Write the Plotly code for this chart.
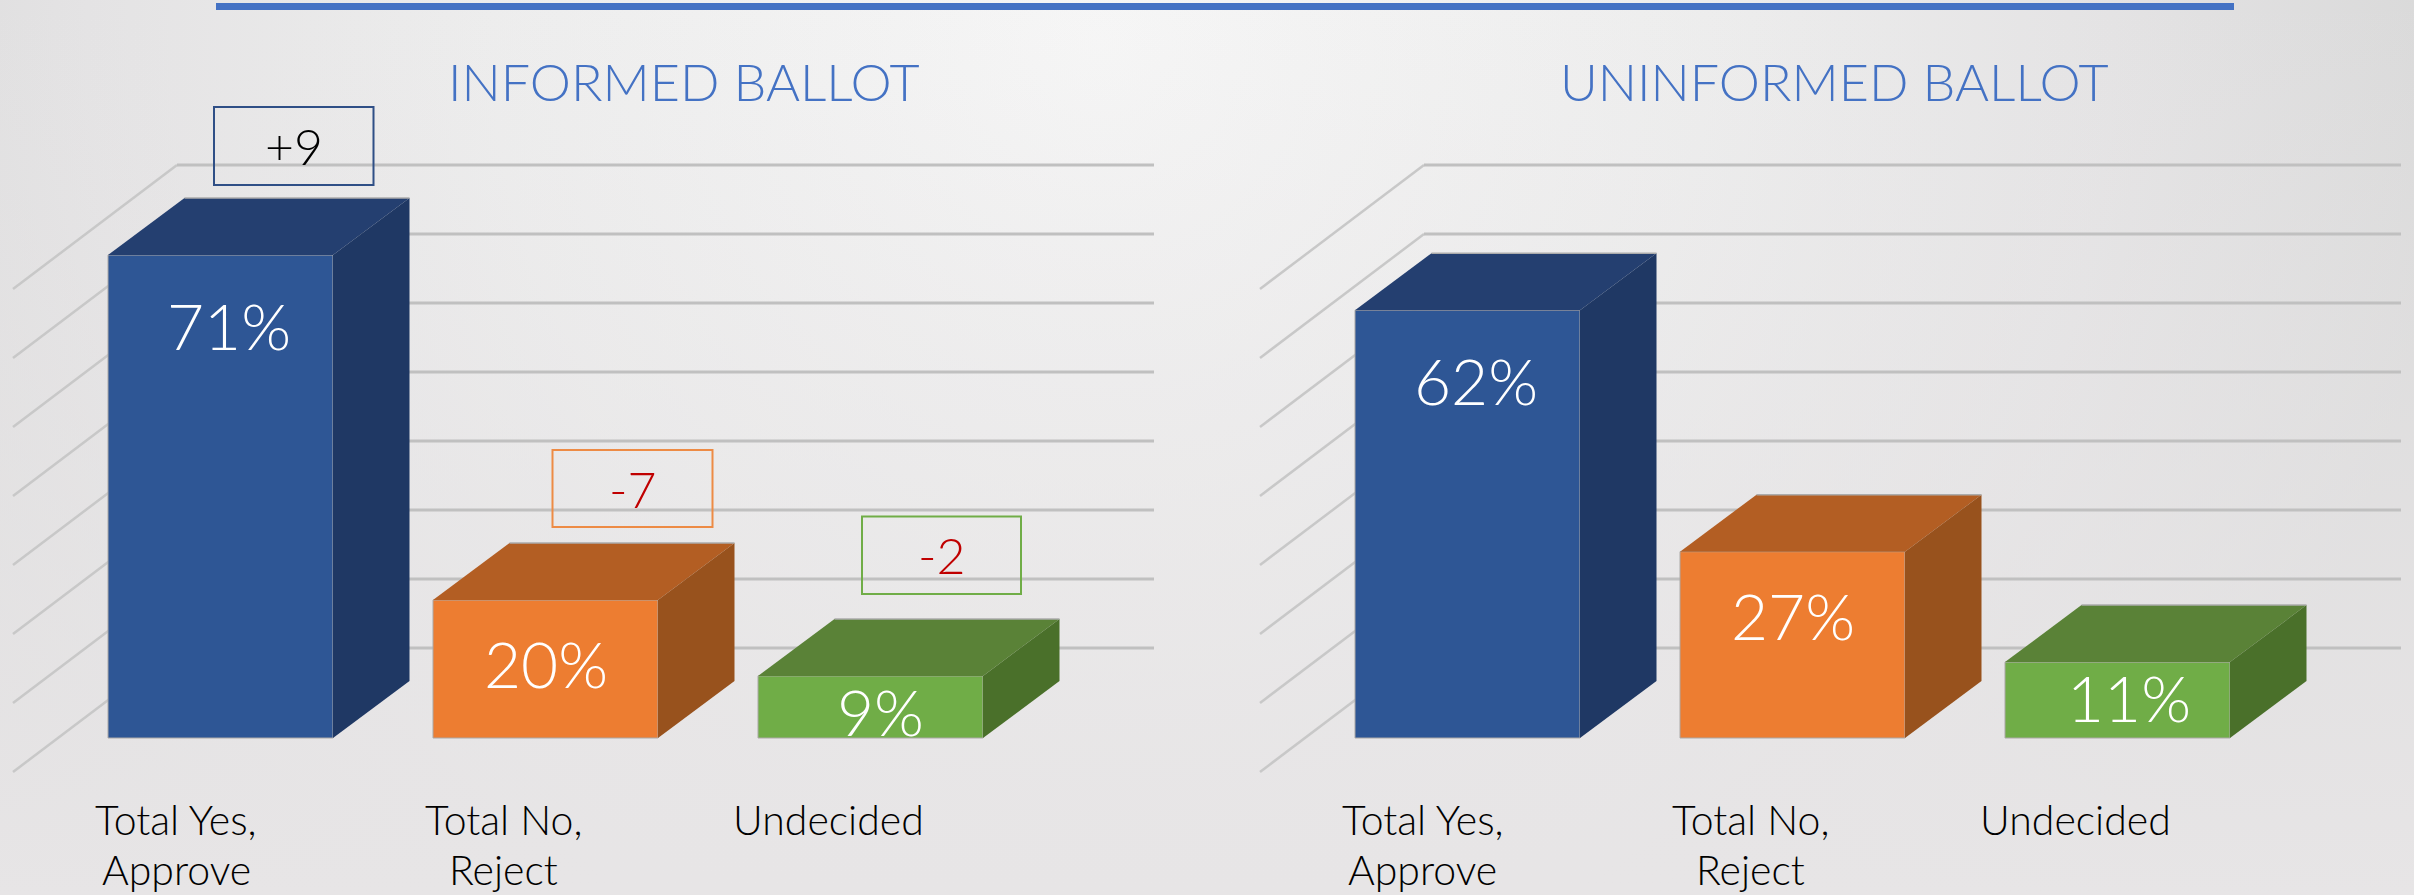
import base64
import numpy as np
import plotly.graph_objects as go

# ---------- data ----------
categories = ["Total Yes, Approve", "Total No, Reject", "Undecided"]
category_lines = [["Total Yes,", "Approve"], ["Total No,", "Reject"], ["Undecided"]]
informed_values = [71, 20, 9]
uninformed_values = [62, 27, 11]
titles = ["INFORMED BALLOT", "UNINFORMED BALLOT"]
change_labels = ["+9", "-7", "-2"]
grid_levels = [0, 10, 20, 30, 40, 50, 60, 70]

# ---------- styles ----------
AXIS_MAX = 70
W, H = 2414, 895
PX_PER_UNIT = 6.9
BASE_Y = 738
SPACING = 325
FRONT = ["#2E5695", "#ED7D31", "#70AD47"]
TOP = ["#243F70", "#B35E23", "#5A8237"]
SIDE = ["#1F3864", "#98521D", "#4A702A"]
BOX = ["#2F4F86", "#ED8B45", "#70AD47"]
CHANGE_COL = ["#000000", "#C00000", "#C00000"]
FONT = "Lato"
PANEL_SHIFT = 1247
FIRST_CENTER = 220.5


def yu(px):
    return (BASE_Y - px) / PX_PER_UNIT


def xu(px, panel):
    return (px - FIRST_CENTER - panel * PANEL_SHIFT) / SPACING


DEPTH_X, DEPTH_Y = 76.5 / SPACING, 57 / PX_PER_UNIT
BAR_W = 225 / SPACING

fig = go.Figure()
panel_vals = [informed_values, uninformed_values]
SPLIT = 1207

axes = {}
for panel in range(2):
    lo, hi = (0, SPLIT) if panel == 0 else (SPLIT, W)
    xr = [xu(lo, panel), xu(hi, panel)]
    yr = [yu(H), yu(0)]
    for layer in range(2):
        idx = panel + layer * 2 + 1
        sx = "" if idx == 1 else str(idx)
        axes[f"xaxis{sx}"] = dict(domain=[lo / W, hi / W], range=xr, visible=False,
                                  fixedrange=True, anchor=f"y{sx}")
        axes[f"yaxis{sx}"] = dict(domain=[0, 1], range=yr, visible=False,
                                  fixedrange=True, anchor=f"x{sx}")

# grid (lower subplots, so that the bars cover it)
corner_x = (177 - FIRST_CENTER) / SPACING
start_x = (13 - FIRST_CENTER) / SPACING
end_x = (1154 - FIRST_CENTER) / SPACING
back_y = 90 / PX_PER_UNIT
front_y = -34 / PX_PER_UNIT
for panel in range(2):
    sx = "" if panel == 0 else "2"
    for lv in grid_levels:
        fig.add_trace(go.Scatter(x=[start_x, corner_x], y=[lv + front_y, lv + back_y],
                                 mode="lines", line=dict(color="#C8C8C8", width=2.5),
                                 xaxis=f"x{sx}", yaxis=f"y{sx}", hoverinfo="skip", showlegend=False))
        fig.add_trace(go.Scatter(x=[corner_x, end_x], y=[lv + back_y, lv + back_y],
                                 mode="lines", line=dict(color="#C0C0C0", width=3),
                                 xaxis=f"x{sx}", yaxis=f"y{sx}", hoverinfo="skip", showlegend=False))

# bars
for panel, vals in enumerate(panel_vals):
    sx = str(panel + 3)
    drawn = np.minimum(vals, AXIS_MAX)
    fig.add_trace(go.Bar(x=[0, 1, 2], y=drawn, width=BAR_W,
                         marker=dict(color=FRONT, line=dict(width=1, color="#ABA8A6")),
                         xaxis=f"x{sx}", yaxis=f"y{sx}", hoverinfo="skip", showlegend=False))
    for i, v in enumerate(drawn):
        l, r = i - BAR_W / 2, i + BAR_W / 2
        fig.add_trace(go.Scatter(x=[l, r, r + DEPTH_X, l + DEPTH_X, l], y=[v, v, v + DEPTH_Y, v + DEPTH_Y, v],
                                 mode="lines", fill="toself", fillcolor=TOP[i], line=dict(width=0),
                                 xaxis=f"x{sx}", yaxis=f"y{sx}", hoverinfo="skip", showlegend=False))
        fig.add_trace(go.Scatter(x=[r, r + DEPTH_X, r + DEPTH_X, r, r], y=[v, v + DEPTH_Y, DEPTH_Y, 0, v],
                                 mode="lines", fill="toself", fillcolor=SIDE[i], line=dict(width=0),
                                 xaxis=f"x{sx}", yaxis=f"y{sx}", hoverinfo="skip", showlegend=False))
        fig.add_trace(go.Scatter(x=[l + DEPTH_X, r + DEPTH_X], y=[v + DEPTH_Y, v + DEPTH_Y],
                                 mode="lines", line=dict(color="#ABABAB", width=1.5),
                                 xaxis=f"x{sx}", yaxis=f"y{sx}", hoverinfo="skip", showlegend=False))

annotations = []


def txt(x, y, s, size, color, weight=400):
    annotations.append(dict(x=x / W, y=1 - y / H, xref="paper", yref="paper", text=s, showarrow=False,
                            xanchor="center", yanchor="middle",
                            font=dict(family=FONT, size=size, color=color, weight=weight)))


# titles
txt(684, 81, titles[0], 52, "#4472C4", 300)
txt(1834, 81, titles[1], 52, "#4472C4", 300)

# value labels
label_centers = [[(229, 325), (546, 663), (880, 711)], [(1476, 380), (1793, 615), (2129, 697)]]
for vals, centers in zip(panel_vals, label_centers):
    for v, (cx, cy) in zip(vals, centers):
        txt(cx, cy, f"{v}%", 64, "#FFFFFF", 300)

# category labels
for panel in range(2):
    for lines, cx in zip(category_lines, (176, 503, 828)):
        for k, line in enumerate(lines):
            txt(cx + panel * PANEL_SHIFT, 819 + k * 50, line, 41, "#000000", 300)

# change boxes
shapes = [dict(type="rect", xref="paper", yref="paper", x0=216 / W, x1=2234 / W, y0=1 - 3 / H, y1=1 - 10 / H,
               fillcolor="#4472C4", line=dict(width=0), layer="above")]
boxes = [(214, 373.5, 107, 185), (552.5, 712.5, 450, 527), (862, 1021, 516.5, 594)]
for (x0, x1, y0, y1), col, tcol, s in zip(boxes, BOX, CHANGE_COL, change_labels):
    shapes.append(dict(type="rect", xref="paper", yref="paper", x0=x0 / W, x1=x1 / W, y0=1 - y0 / H, y1=1 - y1 / H,
                       line=dict(color=col, width=2), fillcolor="rgba(0,0,0,0)", layer="above"))
    txt((x0 + x1) / 2, (y0 + y1) / 2, s, 50, tcol, 300)

svg = f'''<svg xmlns="http://www.w3.org/2000/svg" width="{W}" height="{H}">
<defs><radialGradient id="g" gradientUnits="userSpaceOnUse" cx="1100" cy="40" r="1350">
<stop offset="0" stop-color="#F6F6F6"/><stop offset="0.45" stop-color="#EDEDED"/><stop offset="0.75" stop-color="#E4E3E4"/><stop offset="1" stop-color="#D9D9D9"/>
</radialGradient>
<linearGradient id="b" x1="0" y1="0" x2="0" y2="1"><stop offset="0" stop-color="#E8E6E7" stop-opacity="0"/><stop offset="1" stop-color="#E7E5E6" stop-opacity="1"/></linearGradient></defs>
<rect width="{W}" height="{H}" fill="url(#g)"/><rect width="{W}" height="{H}" fill="url(#b)"/></svg>'''
src = "data:image/svg+xml;base64," + base64.b64encode(svg.encode()).decode()

fig.update_layout(
    width=W, height=H, margin=dict(l=0, r=0, t=0, b=0), showlegend=False,
    paper_bgcolor="#E8E8E8", plot_bgcolor="rgba(0,0,0,0)", barmode="overlay",
    annotations=annotations, shapes=shapes,
    images=[dict(source=src, xref="paper", yref="paper", x=0, y=1, sizex=1, sizey=1,
                 sizing="stretch", xanchor="left", yanchor="top", layer="below")],
    **axes,
)
fig.write_html("out.html", config={"displayModeBar": False},
               post_script="document.body.style.margin='0';document.body.style.overflow='hidden';")
